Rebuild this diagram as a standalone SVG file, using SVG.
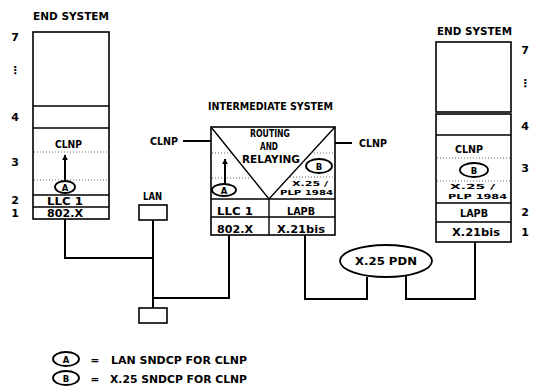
<svg xmlns="http://www.w3.org/2000/svg" width="547" height="387" viewBox="0 0 547 387">
<defs>
<style>
text{font-family:"DejaVu Sans","Liberation Sans",sans-serif;font-weight:bold;fill:#000;text-anchor:middle}
.t{font-size:10.5px}
.s{font-size:7px}
.e{font-size:8.5px}
.n{font-size:11px}
.box{fill:#fff;stroke:#000;stroke-width:1.6}
.ln{fill:none;stroke:#000;stroke-width:1.4}
.dot{fill:none;stroke:#555;stroke-width:0.9;stroke-dasharray:1 2}
.con{fill:none;stroke:#000;stroke-width:2}
.el{fill:#fff;stroke:#000;stroke-width:1.8}
</style>
<marker id="ah" viewBox="0 0 10 10" refX="9" refY="5" markerWidth="6" markerHeight="6" orient="auto" markerUnits="userSpaceOnUse">
<path d="M0,0 L10,5 L0,10 z" fill="#000"/>
</marker>
</defs>
<rect width="547" height="387" fill="#fff"/>

<g id="connectors">
<path class="con" d="M65,219 V258 H153"/>
<path class="con" d="M153,220 V308"/>
<path class="con" d="M229,235 V298 H153"/>
<path class="con" d="M305,235 V299 H367 V277"/>
<path class="con" d="M475,242 V299 H406 V276"/>
<path class="con" d="M183,141 H220" marker-end="url(#ah)"/>
<path class="con" d="M352,143 H327" marker-end="url(#ah)"/>
</g>

<g id="end-system-left">
<text class="t" x="71" y="20" textLength="76" lengthAdjust="spacingAndGlyphs">END SYSTEM</text>
<rect class="box" x="33" y="32" width="76" height="187"/>
<line class="ln" x1="33" y1="106" x2="109" y2="106"/>
<line class="ln" x1="33" y1="128" x2="109" y2="128"/>
<line class="ln" x1="33" y1="195" x2="109" y2="195"/>
<line class="ln" x1="33" y1="207" x2="109" y2="207"/>
<line class="dot" x1="34" y1="152" x2="108" y2="152"/>
<line class="dot" x1="34" y1="180" x2="108" y2="180"/>
<text class="t" x="68.5" y="148" textLength="27" lengthAdjust="spacingAndGlyphs">CLNP</text>
<line class="con" x1="65" y1="181" x2="65" y2="155" marker-end="url(#ah)"/>
<ellipse class="el" cx="65" cy="187" rx="10" ry="6"/>
<text class="e" x="65" y="190.5">A</text>
<text class="t" x="65" y="205" textLength="36" lengthAdjust="spacingAndGlyphs">LLC 1</text>
<text class="t" x="65" y="217" textLength="36" lengthAdjust="spacingAndGlyphs">802.X</text>
<text class="n" x="15" y="41">7</text>
<text class="n" x="15" y="74">⋮</text>
<text class="n" x="15" y="121">4</text>
<text class="n" x="15" y="166">3</text>
<text class="n" x="15" y="204">2</text>
<text class="n" x="15" y="217">1</text>
</g>

<g id="intermediate-system">
<text class="t" x="270.5" y="110" textLength="125" lengthAdjust="spacingAndGlyphs">INTERMEDIATE SYSTEM</text>
<rect class="box" x="211" y="127" width="124" height="108"/>
<path class="ln" d="M211,127 L269,199 L335,127"/>
<line class="ln" x1="211" y1="199" x2="335" y2="199"/>
<line class="ln" x1="211" y1="217" x2="335" y2="217"/>
<line class="ln" x1="269" y1="199" x2="269" y2="235"/>
<line class="dot" x1="212" y1="153" x2="231" y2="153"/>
<line class="dot" x1="212" y1="178" x2="251" y2="178"/>
<line class="dot" x1="311" y1="153" x2="334" y2="153"/>
<line class="dot" x1="290" y1="177" x2="334" y2="177"/>
<text class="t" x="270" y="137" textLength="40" lengthAdjust="spacingAndGlyphs">ROUTING</text>
<text class="t" x="269" y="150" textLength="18" lengthAdjust="spacingAndGlyphs">AND</text>
<text class="t" x="271" y="163" textLength="58" lengthAdjust="spacingAndGlyphs">RELAYING</text>
<line class="con" x1="225" y1="184" x2="225" y2="159" marker-end="url(#ah)"/>
<ellipse class="el" cx="224" cy="190" rx="12" ry="6"/>
<text class="e" x="224" y="193.5">A</text>
<ellipse class="el" cx="319" cy="166" rx="13" ry="7"/>
<text class="e" x="319" y="169.5">B</text>
<text class="s" x="310" y="186" textLength="36" lengthAdjust="spacingAndGlyphs">X.25 /</text>
<text class="s" x="306.5" y="195" textLength="53" lengthAdjust="spacingAndGlyphs">PLP 1984</text>
<text class="t" x="235" y="215" textLength="36" lengthAdjust="spacingAndGlyphs">LLC 1</text>
<text class="t" x="235" y="233" textLength="36" lengthAdjust="spacingAndGlyphs">802.X</text>
<text class="t" x="301" y="215" textLength="28" lengthAdjust="spacingAndGlyphs">LAPB</text>
<text class="t" x="301" y="233" textLength="48" lengthAdjust="spacingAndGlyphs">X.21bis</text>
<text class="t" x="164" y="145" textLength="28" lengthAdjust="spacingAndGlyphs">CLNP</text>
<text class="t" x="373" y="147" textLength="28" lengthAdjust="spacingAndGlyphs">CLNP</text>
</g>

<g id="end-system-right">
<text class="t" x="474.5" y="35" textLength="75" lengthAdjust="spacingAndGlyphs">END SYSTEM</text>
<rect class="box" x="436" y="42" width="75" height="70"/>
<rect class="box" x="436" y="114" width="75" height="128"/>
<line class="ln" x1="436" y1="135" x2="511" y2="135"/>
<line class="ln" x1="436" y1="203" x2="511" y2="203"/>
<line class="ln" x1="436" y1="222" x2="511" y2="222"/>
<line class="dot" x1="437" y1="158" x2="510" y2="158"/>
<line class="dot" x1="437" y1="181" x2="510" y2="181"/>
<text class="t" x="469" y="153" textLength="28" lengthAdjust="spacingAndGlyphs">CLNP</text>
<ellipse class="el" cx="474" cy="170" rx="14" ry="7"/>
<text class="e" x="474" y="173.5">B</text>
<text class="s" x="472.5" y="189" textLength="45" lengthAdjust="spacingAndGlyphs">X.25 /</text>
<text class="s" x="477.5" y="199" textLength="59" lengthAdjust="spacingAndGlyphs">PLP 1984</text>
<text class="t" x="474" y="217" textLength="28" lengthAdjust="spacingAndGlyphs">LAPB</text>
<text class="t" x="476" y="236" textLength="48" lengthAdjust="spacingAndGlyphs">X.21bis</text>
<text class="n" x="525" y="54">7</text>
<text class="n" x="525" y="87">⋮</text>
<text class="n" x="525" y="130">4</text>
<text class="n" x="525" y="172">3</text>
<text class="n" x="525" y="216">2</text>
<text class="n" x="525" y="236">1</text>
</g>

<g id="lan">
<text class="t" x="152.5" y="200" textLength="19" lengthAdjust="spacingAndGlyphs">LAN</text>
<rect class="box" x="139" y="205" width="28" height="15"/>
<rect class="box" x="139" y="308" width="28" height="15"/>
</g>

<g id="x25-pdn">
<ellipse class="el" cx="386" cy="261" rx="46" ry="16"/>
<text class="t" x="386" y="265" textLength="62" lengthAdjust="spacingAndGlyphs">X.25 PDN</text>
</g>

<g id="legend">
<ellipse class="el" cx="66" cy="359" rx="13" ry="7"/>
<text class="e" x="66" y="362.5">A</text>
<text class="t" x="95" y="364">=</text>
<text class="t" x="179" y="364" textLength="136" lengthAdjust="spacingAndGlyphs">LAN SNDCP FOR CLNP</text>
<ellipse class="el" cx="66" cy="378" rx="13" ry="7"/>
<text class="e" x="66" y="381.5">B</text>
<text class="t" x="95" y="383">=</text>
<text class="t" x="178.5" y="383" textLength="137" lengthAdjust="spacingAndGlyphs">X.25 SNDCP FOR CLNP</text>
</g>
</svg>
